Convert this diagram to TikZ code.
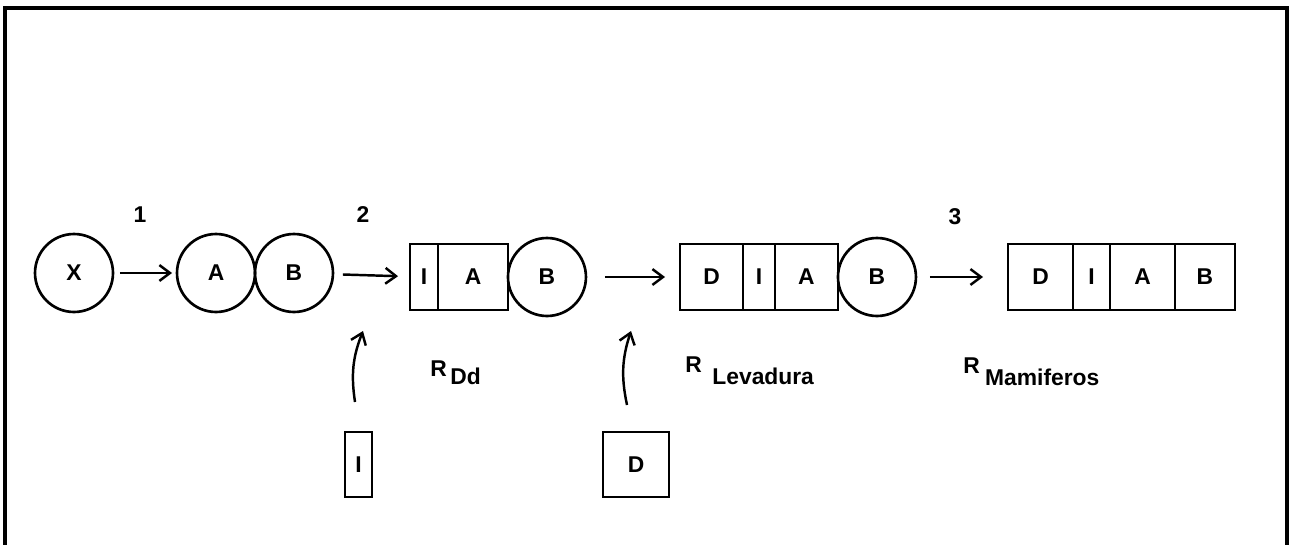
\documentclass[tikz,border=0pt]{standalone}
\usepackage{fontspec}
\setmainfont{Liberation Sans}
\usetikzlibrary{positioning,arrows.meta}

\begin{document}
\begin{tikzpicture}[x=0.02cm,y=-0.02cm,
    every node/.style={font=\fontsize{13}{15}\selectfont\bfseries},
    ring/.style={draw,circle,line width=1.5pt,minimum size=1.56cm,inner sep=0pt,outer sep=0pt},
    cell/.style={draw,rectangle,line width=1.5pt,minimum height=1.32cm,inner sep=0pt,outer sep=0pt},
    flow/.style={-{Straight Barb[length=6pt,width=9pt]},line width=1.4pt}]
    % Marco
    \useasboundingbox (0,0) rectangle (1294,544);
    \draw[line width=2pt] (5,560) -- (5,8) -- (1287,8) -- (1287,560);

    % Paso 1
    \node[ring] (x) at (74,273) {X};
    \node[ring] (a1) at (216,273) {A};
    \node[ring,right=0pt of a1] (b1) {B};

    % Paso 2
    \node[cell,minimum width=0.56cm] (i2) at (424,277) {I};
    \node[cell,minimum width=1.4cm,right=0pt of i2] (a2) {A};
    \node[ring,right=0pt of a2] (b2) {B};

    % Paso 3
    \node[cell,minimum width=1.26cm] (d3) at (711.5,277) {D};
    \node[cell,minimum width=0.64cm,right=0pt of d3] (i3) {I};
    \node[cell,minimum width=1.26cm,right=0pt of i3] (a3) {A};
    \node[ring,right=0pt of a3] (b3) {B};

    % Paso 4
    \node[cell,minimum width=1.3cm] (d4) at (1040.5,277) {D};
    \node[cell,minimum width=0.74cm,right=0pt of d4] (i4) {I};
    \node[cell,minimum width=1.3cm,right=0pt of i4] (a4) {A};
    \node[cell,minimum width=1.2cm,right=0pt of a4] (b4) {B};

    % Flechas
    \draw[flow,shorten <=0.14cm,shorten >=0.1cm] (x) -- (a1);
    \draw[flow,shorten <=0.2cm,shorten >=0.24cm] (b1) -- (i2);
    \draw[flow,shorten <=0.38cm,shorten >=0.3cm] (b2) -- (d3);
    \draw[flow,shorten <=0.28cm,shorten >=0.5cm] (b3) -- (d4);

    % Entradas
    \node[cell,minimum width=0.54cm,minimum height=1.3cm] (iin) at (358.5,464.5) {I};
    \node[cell,minimum width=1.32cm,minimum height=1.3cm] (din) at (636,464.5) {D};
    \coordinate (ti) at (363,331);
    \coordinate (td) at (631,331);
    \draw[flow] ([xshift=-0.07cm,yshift=0.6cm]iin.north) to[bend left=15] (ti);
    \draw[flow] ([xshift=-0.18cm,yshift=0.54cm]din.north) to[bend left=15] (td);

    % Numeros
    \node (n1) at (140,215) {1};
    \node (n2) at (363,215) {2};
    \node (n3) at (955,217) {3};

    % Etiquetas
    \node[anchor=base west,inner sep=0pt] (rdd) at (430,376) {R\hspace{2pt}\raisebox{-5pt}{Dd}};
    \node[anchor=base west,inner sep=0pt] (rlev) at (685,372) {R\hspace{6pt}\raisebox{-7pt}{Levadura}};
    \node[anchor=base west,inner sep=0pt] (rmam) at (963,373) {R\hspace{3pt}\raisebox{-7pt}{Mamiferos}};
\end{tikzpicture}
\end{document}
